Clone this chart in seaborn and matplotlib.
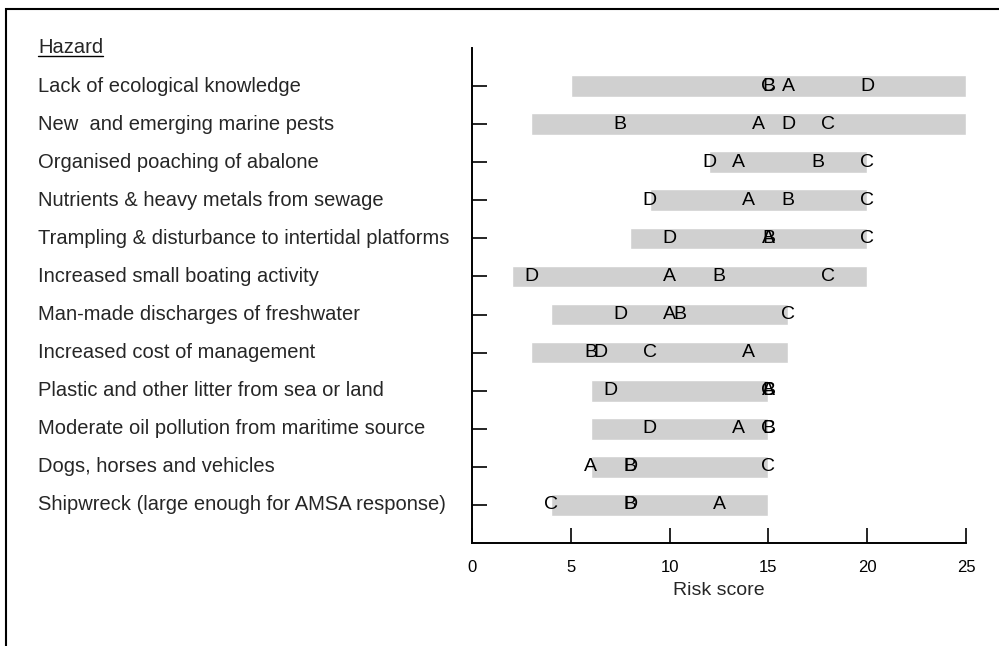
import matplotlib
matplotlib.use("Agg")
import matplotlib.pyplot as plt
import matplotlib.transforms as mtransforms
from matplotlib.lines import Line2D
from matplotlib.patches import Rectangle
import seaborn as sns

hazards = [
    "Lack of ecological knowledge",
    "New  and emerging marine pests",
    "Organised poaching of abalone",
    "Nutrients & heavy metals from sewage",
    "Trampling & disturbance to intertidal platforms",
    "Increased small boating activity",
    "Man-made discharges of freshwater",
    "Increased cost of management",
    "Plastic and other litter from sea or land",
    "Moderate oil pollution from maritime source",
    "Dogs, horses and vehicles",
    "Shipwreck (large enough for AMSA response)",
]
bar_lo = [5, 3, 12, 9, 8, 2, 4, 3, 6, 6, 6, 4]
bar_hi = [25, 25, 20, 20, 20, 20, 16, 16, 15, 15, 15, 15]
score_a = [16, 14.5, 13.5, 14, 15, 10, 10, 14, 15, 13.5, 6, 12.5]
score_b = [15, 7.5, 17.5, 16, 15, 12.5, 10.5, 6, 15, 15, 8, 8]
score_c = [15, 18, 20, 20, 20, 18, 16, 9, 15, 15, 15, 4]
score_d = [20, 16, 12, 9, 10, 3, 7.5, 6.5, 7, 9, 8, 8]
x_ticks = [0, 5, 10, 15, 20, 25]

sns.set_style("white")
plt.rcParams["font.family"] = ["Liberation Sans", "DejaVu Sans"]

fig = plt.figure(figsize=(9.99, 6.46), dpi=100)
ax = fig.add_axes([0.4725, 0.1594, 0.967 - 0.4725, 0.9257 - 0.1594])

rows = list(range(len(hazards)))
ax.barh(rows, [h - l for l, h in zip(bar_lo, bar_hi)], left=bar_lo,
        height=0.57, color="#d0d0d0", zorder=1)

# letters drawn D first so that A/B sit on top where scores coincide
for name, scores in [("D", score_d), ("C", score_c), ("B", score_b), ("A", score_a)]:
    for r, s in zip(rows, scores):
        ax.text(s, r, name, ha="center", va="center", fontsize=14, color="black", zorder=3)

ax.set_xlim(0, 25)
ax.set_ylim(12, -1)
ax.set_xticks(x_ticks)
ax.set_xticklabels([str(t) for t in x_ticks], fontsize=12)
ax.set_yticks(rows)
ax.set_yticklabels([])
ax.tick_params(axis="x", direction="in", length=11, width=1.2, pad=12, colors="black")
ax.tick_params(axis="y", direction="in", length=11, width=1.2, colors="black")
ax.tick_params(bottom=True, left=True)
ax.set_xlabel("Risk score", fontsize=14, labelpad=5)
for side in ["top", "right"]:
    ax.spines[side].set_visible(False)
for side in ["left", "bottom"]:
    ax.spines[side].set_color("black")
    ax.spines[side].set_linewidth(1.4)

trans = mtransforms.blended_transform_factory(fig.transFigure, ax.transData)
for r, name in zip(rows, hazards):
    ax.text(0.038, r, name, transform=trans, ha="left", va="center", fontsize=14.5)
head = ax.text(0.038, -1, "Hazard", transform=trans, ha="left", va="center", fontsize=14.5)

fig.canvas.draw()
bb = head.get_window_extent().transformed(fig.transFigure.inverted())
fig.add_artist(Line2D([bb.x0, bb.x1], [bb.y0 + 0.002, bb.y0 + 0.002], color="black", lw=1))

fig.add_artist(Rectangle((0.006, -0.1), 1.1, 1.1 - 0.014, transform=fig.transFigure,
                         fill=False, edgecolor="black", lw=1.5))

fig.savefig("out.png", dpi=100)
